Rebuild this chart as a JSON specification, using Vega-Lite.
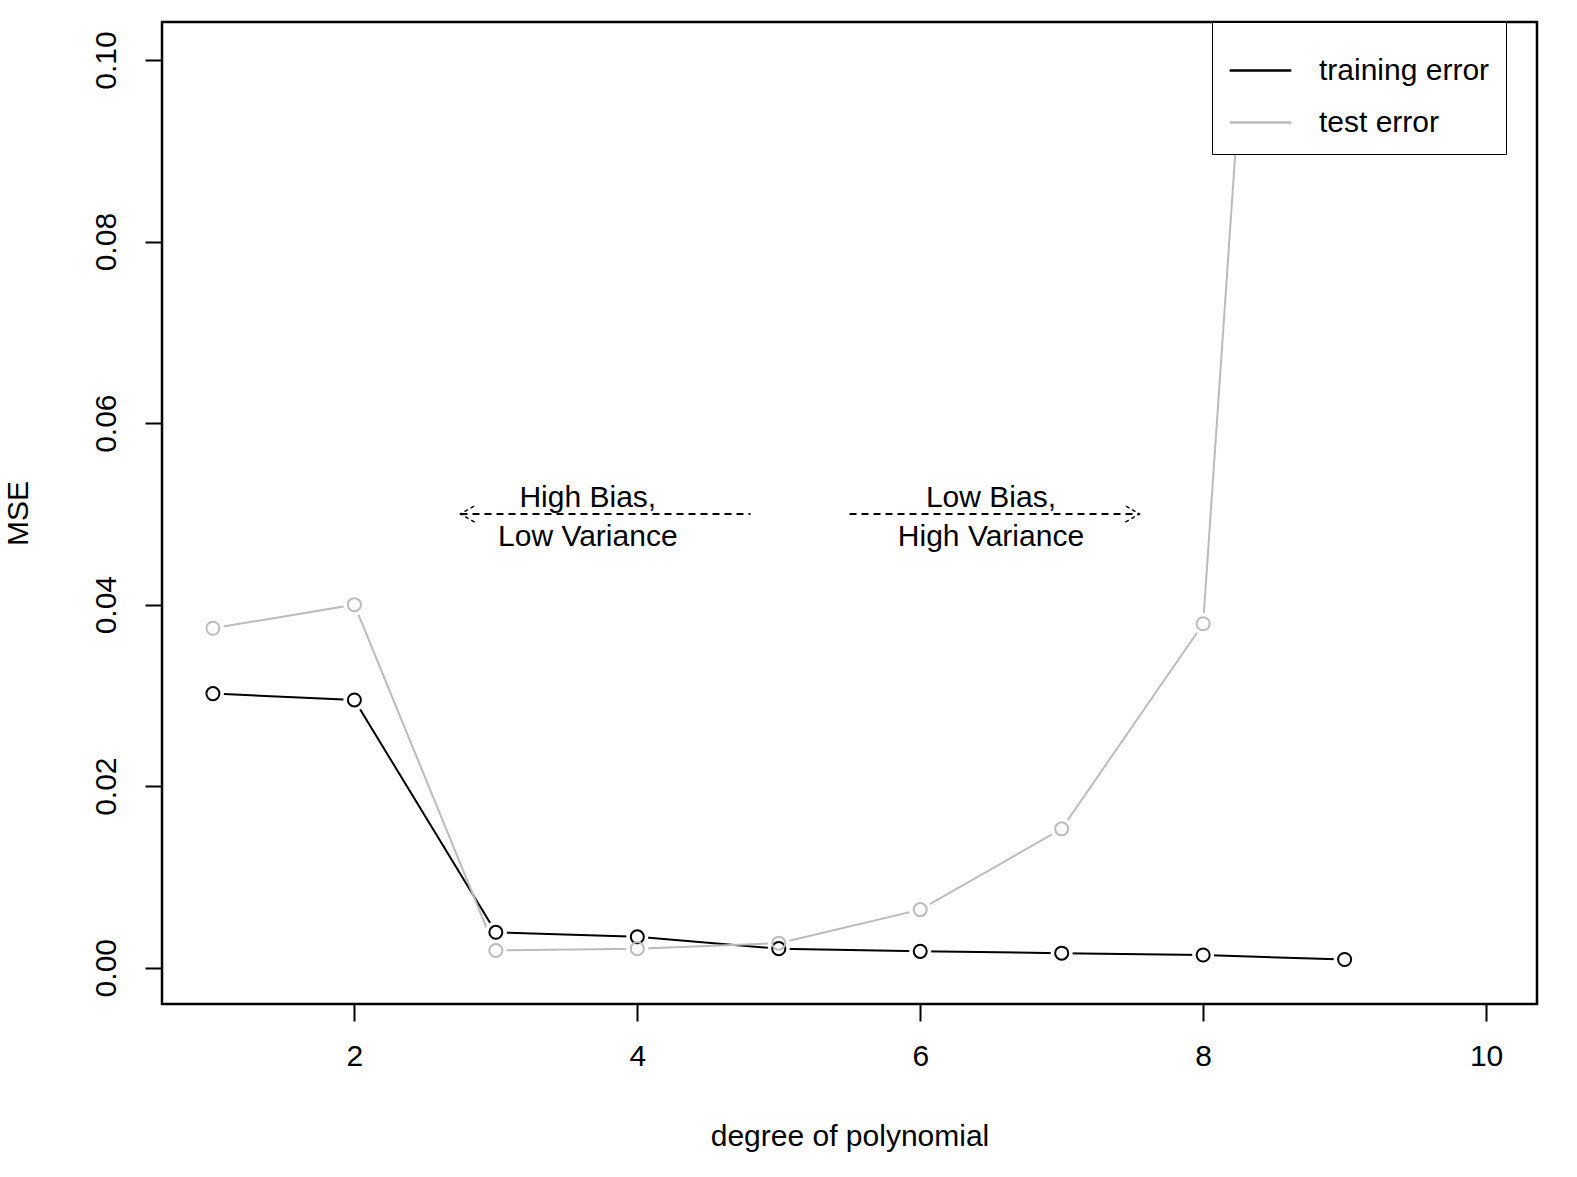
{
  "$schema": "https://vega.github.io/schema/vega-lite/v6.json",
  "width": 1375,
  "height": 982,
  "autosize": "none",
  "padding": {"left": 162, "top": 22, "right": 40, "bottom": 173},
  "background": "white",
  "config": {
    "font": "Liberation Sans",
    "view": {"stroke": "black", "strokeWidth": 2.5},
    "axis": {"grid": false, "domain": false, "tickColor": "black", "tickWidth": 2, "tickSize": 17,
      "labelFontSize": 30, "labelColor": "black", "titleFontSize": 30, "titleFontWeight": "normal", "titleColor": "black"}
  },
  "datasets": {
    "mse": [
      {"degree": 1, "error": "training error", "mse": 0.0302},
      {"degree": 2, "error": "training error", "mse": 0.0295},
      {"degree": 3, "error": "training error", "mse": 0.0039},
      {"degree": 4, "error": "training error", "mse": 0.0034},
      {"degree": 5, "error": "training error", "mse": 0.0021},
      {"degree": 6, "error": "training error", "mse": 0.0018},
      {"degree": 7, "error": "training error", "mse": 0.0016},
      {"degree": 8, "error": "training error", "mse": 0.0014},
      {"degree": 9, "error": "training error", "mse": 0.0009},
      {"degree": 1, "error": "test error", "mse": 0.0374},
      {"degree": 2, "error": "test error", "mse": 0.0400},
      {"degree": 3, "error": "test error", "mse": 0.0019},
      {"degree": 4, "error": "test error", "mse": 0.0021},
      {"degree": 5, "error": "test error", "mse": 0.0027},
      {"degree": 6, "error": "test error", "mse": 0.0064},
      {"degree": 7, "error": "test error", "mse": 0.0153},
      {"degree": 8, "error": "test error", "mse": 0.0379},
      {"degree": 9, "error": "test error", "mse": 0.266}
    ],
    "arrows": [
      {"seg": "a", "x": 4.8, "y": 0.05},
      {"seg": "a", "x": 2.75, "y": 0.05},
      {"seg": "b", "x": 5.5, "y": 0.05},
      {"seg": "b", "x": 7.55, "y": 0.05}
    ],
    "heads": [
      {"seg": "ah", "x": 2.85, "y": 0.0509},
      {"seg": "ah", "x": 2.75, "y": 0.05},
      {"seg": "ah", "x": 2.85, "y": 0.0491},
      {"seg": "bh", "x": 7.45, "y": 0.0509},
      {"seg": "bh", "x": 7.55, "y": 0.05},
      {"seg": "bh", "x": 7.45, "y": 0.0491}
    ],
    "notes": [
      {"x": 3.65, "y": 0.0518, "label": "High Bias,"},
      {"x": 3.65, "y": 0.0475, "label": "Low Variance"},
      {"x": 6.5, "y": 0.0518, "label": "Low Bias,"},
      {"x": 6.5, "y": 0.0475, "label": "High Variance"}
    ]
  },
  "layer": [
    {
      "data": {"name": "mse"},
      "mark": {"type": "line", "clip": true, "strokeWidth": 2},
      "encoding": {
        "x": {"field": "degree", "type": "quantitative",
          "scale": {"domain": [0.64, 10.36], "nice": false, "zero": false},
          "axis": {"values": [2, 4, 6, 8, 10], "format": "d", "title": "degree of polynomial", "labelPadding": 20, "titlePadding": 50}},
        "y": {"field": "mse", "type": "quantitative",
          "scale": {"domain": [-0.004, 0.1042], "nice": false, "zero": false},
          "axis": {"values": [0, 0.02, 0.04, 0.06, 0.08, 0.1], "format": ".2f", "labelAngle": -90, "labelAlign": "center", "labelBaseline": "bottom", "labelPadding": 24, "title": "MSE", "titlePadding": 58}},
        "color": {"field": "error", "type": "nominal",
          "scale": {"domain": ["training error", "test error"], "range": ["black", "#bbbbbb"]},
          "legend": {"title": null, "orient": "none", "legendX": 1050, "legendY": 0,
            "strokeColor": "black", "fillColor": "white", "padding": 16,
            "labelFontSize": 30, "labelColor": "black", "symbolType": "stroke", "symbolSize": 3800,
            "symbolStrokeWidth": 2.5, "rowPadding": 4, "labelOffset": 26, "labelLimit": 400}}
      }
    },
    {
      "data": {"name": "mse"},
      "mark": {"type": "point", "clip": true, "filled": true, "color": "white", "size": 480, "opacity": 1},
      "encoding": {
        "x": {"field": "degree", "type": "quantitative"},
        "y": {"field": "mse", "type": "quantitative"}
      }
    },
    {
      "data": {"name": "mse"},
      "mark": {"type": "point", "clip": true, "size": 170, "strokeWidth": 2, "opacity": 1},
      "encoding": {
        "x": {"field": "degree", "type": "quantitative"},
        "y": {"field": "mse", "type": "quantitative"},
        "color": {"field": "error", "type": "nominal", "legend": null}
      }
    },
    {
      "data": {"name": "arrows"},
      "mark": {"type": "line", "color": "black", "strokeWidth": 2, "strokeDash": [7, 5]},
      "encoding": {
        "x": {"field": "x", "type": "quantitative"},
        "y": {"field": "y", "type": "quantitative"},
        "detail": {"field": "seg"}
      }
    },
    {
      "data": {"name": "heads"},
      "mark": {"type": "line", "color": "black", "strokeWidth": 1.5, "strokeDash": [4, 3]},
      "encoding": {
        "x": {"field": "x", "type": "quantitative"},
        "y": {"field": "y", "type": "quantitative"},
        "detail": {"field": "seg"},
        "order": {"field": "y"}
      }
    },
    {
      "data": {"name": "notes"},
      "mark": {"type": "text", "fontSize": 30, "color": "black"},
      "encoding": {
        "x": {"field": "x", "type": "quantitative"},
        "y": {"field": "y", "type": "quantitative"},
        "text": {"field": "label"}
      }
    }
  ]
}
